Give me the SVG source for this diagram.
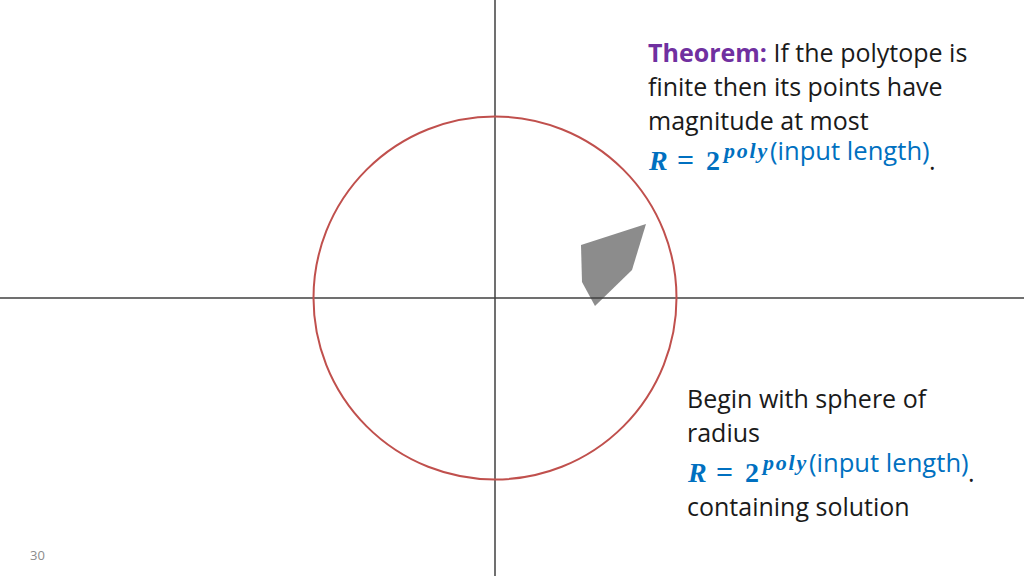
<svg xmlns="http://www.w3.org/2000/svg" width="1024" height="576" viewBox="0 0 1024 576">
<style>
.t{font-family:"Open Sans","Liberation Sans",sans-serif;font-size:25px;fill:#1a1a1a}
.m{font-family:"Liberation Serif",serif;font-weight:bold;fill:#0070C0}
.b{font-family:"Open Sans","Liberation Sans",sans-serif;fill:#0070C0}
.ax{stroke:#404040;stroke-width:1.5;fill:none}
</style>
<rect width="1024" height="576" fill="#fff"/>
<g id="polytope"><polygon points="581,245 646,224 632,270 595,306 582,282" fill="#8c8c8c"/></g>
<g id="axes">
<line class="ax" x1="495" y1="0" x2="495" y2="576"/>
<line class="ax" x1="0" y1="298" x2="1024" y2="298"/>
</g>
<g id="sphere"><circle cx="495" cy="298" r="181.5" fill="none" stroke="#C0504D" stroke-width="2"/></g>
<g id="theorem">
<text class="t" x="648" y="62"><tspan fill="#7030A0" font-weight="bold">Theorem:</tspan> If the polytope is</text>
<text class="t" x="648" y="96">finite then its points have</text>
<text class="t" x="648" y="130">magnitude at most</text>
<text x="649" y="170"><tspan class="m" font-style="italic" font-size="28">R</tspan><tspan class="m" font-size="30" font-weight="normal" x="677">=</tspan><tspan class="m" font-size="28" x="706">2</tspan><tspan class="m" font-style="italic" font-size="22" x="724" dy="-12" letter-spacing="1.8">poly</tspan><tspan class="b" font-size="25.6" x="770" dy="2">(input length)</tspan><tspan class="t" x="929" dy="10">.</tspan></text>
</g>
<g id="sphere-note">
<text class="t" x="687" y="408">Begin with sphere of</text>
<text class="t" x="687" y="442">radius</text>
<text x="688" y="482"><tspan class="m" font-style="italic" font-size="28">R</tspan><tspan class="m" font-size="30" font-weight="normal" x="716">=</tspan><tspan class="m" font-size="28" x="745">2</tspan><tspan class="m" font-style="italic" font-size="22" x="763" dy="-12" letter-spacing="1.8">poly</tspan><tspan class="b" font-size="25.6" x="809" dy="2">(input length)</tspan><tspan class="t" x="968" dy="10">.</tspan></text>
<text class="t" x="687" y="516">containing solution</text>
</g>
<text x="30" y="560" font-family="Open Sans,Liberation Sans,sans-serif" font-size="13" fill="#8c8c8c">30</text>
</svg>
